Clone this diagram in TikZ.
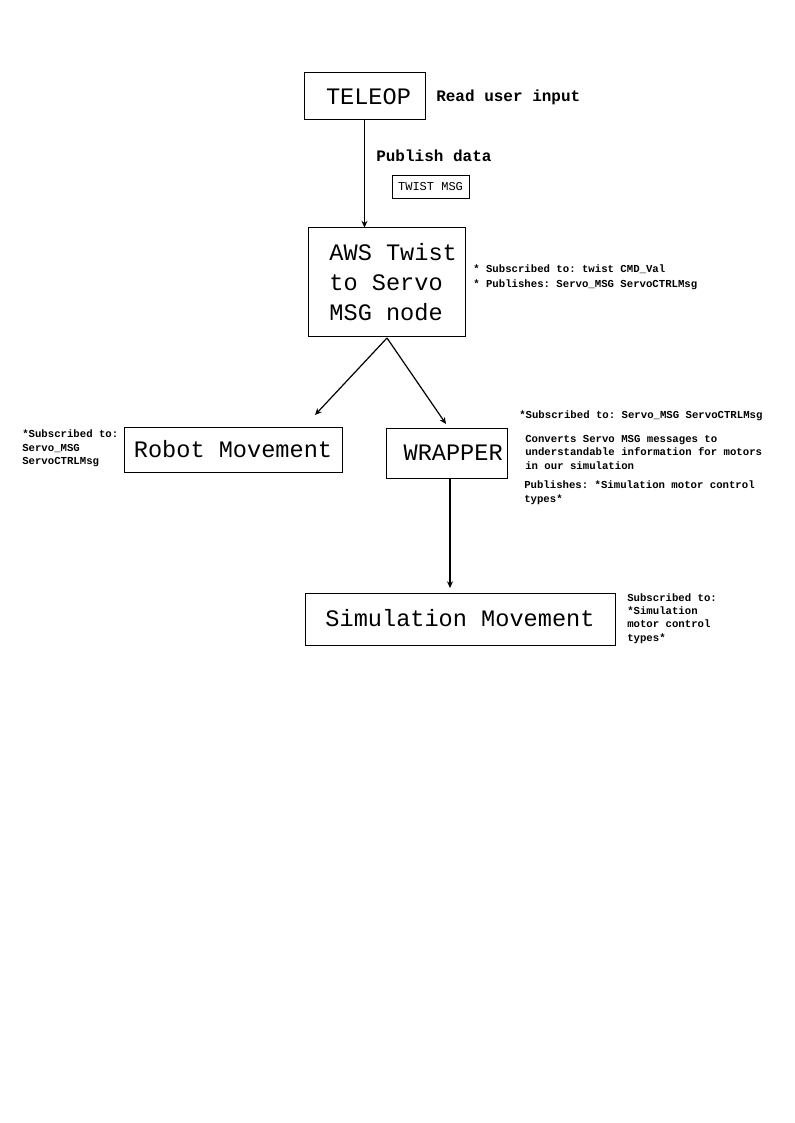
\documentclass[tikz,border=0pt]{standalone}
\usepackage{fontspec}
\setmonofont{Liberation Mono}
\usetikzlibrary{arrows.meta}
\begin{document}
\begin{tikzpicture}[x=0.75pt,y=-0.75pt,
  box/.style={draw,line width=0.75pt,inner sep=0pt,font=\ttfamily\fontsize{17.7}{22.5}\selectfont,align=center},
  note/.style={inner sep=0pt,anchor=north west,align=left,font=\ttfamily\bfseries\fontsize{8}{10}\selectfont},
  lbl/.style={inner sep=0pt,anchor=west,font=\ttfamily\bfseries\fontsize{12}{14}\selectfont},
  conn/.style={line width=0.9pt,-{Stealth[length=5pt,width=4.5pt]}}]
\useasboundingbox (0,0) rectangle (794,1123);
% boxes
\node[box,minimum width=121*0.75pt,minimum height=47*0.75pt] (teleop) at (364.5,96.5) {\hspace{6pt}TELEOP};
\node[box,align=left,minimum width=157*0.75pt,minimum height=108*0.75pt] (aws) at (386.5,282) {\hspace*{10pt}AWS Twist\\\hspace*{10pt}to Servo\\\hspace*{10pt}MSG node};
\node[box,minimum width=218*0.75pt,minimum height=45*0.75pt] (robot) at (233,449.5) {\raisebox{1.5pt}{Robot Movement}};
\node[box,minimum width=121*0.75pt,minimum height=50*0.75pt] (wrapper) at (446.5,453) {\hspace{10pt}WRAPPER};
\node[box,minimum width=310*0.75pt,minimum height=52*0.75pt] (sim) at (460,619) {\raisebox{1.5pt}{Simulation Movement}};
\node[draw,line width=0.6pt,minimum width=77*0.75pt,minimum height=23*0.75pt,inner sep=0pt,font=\ttfamily\fontsize{9}{10}\selectfont] (twist) at (430.5,186.5) {TWIST MSG};
% labels
\node[lbl] (read) at (436,97) {Read user input};
\node[lbl] (publish) at (376,156) {Publish data};
\node[note,font=\ttfamily\bfseries\fontsize{8}{11.25}\selectfont] (awsnote) at (473,265) {* Subscribed to: twist CMD\_Val\\* Publishes: Servo\_MSG ServoCTRLMsg};
\node[note] (robotnote) at (22,430) {*Subscribed to:\\Servo\_MSG\\ServoCTRLMsg};
\node[note] (wrapsub) at (519,411) {*Subscribed to: Servo\_MSG ServoCTRLMsg};
\node[note] (wrapconv) at (525,435) {Converts Servo MSG messages to\\understandable information for motors\\in our simulation};
\node[note] (wrappub) at (524,481) {Publishes: *Simulation motor control\\types*};
\node[note] (simnote) at (627,593) {Subscribed to:\\*Simulation\\motor control\\types*};
% connectors
\coordinate (awstop) at (teleop.south |- aws.north);
\draw[conn] (teleop.south) -- (awstop);
\coordinate (fork) at (387,338);
\coordinate (robotend) at (315,415);
\coordinate (wrapend) at (446,424);
\draw[conn] (fork) -- (robotend);
\draw[conn] (fork) -- (wrapend);
\coordinate (wrapbot) at (450,478);
\coordinate (simtop) at (450,588);
\draw[conn] (wrapbot) -- (simtop);
\end{tikzpicture}
\end{document}
